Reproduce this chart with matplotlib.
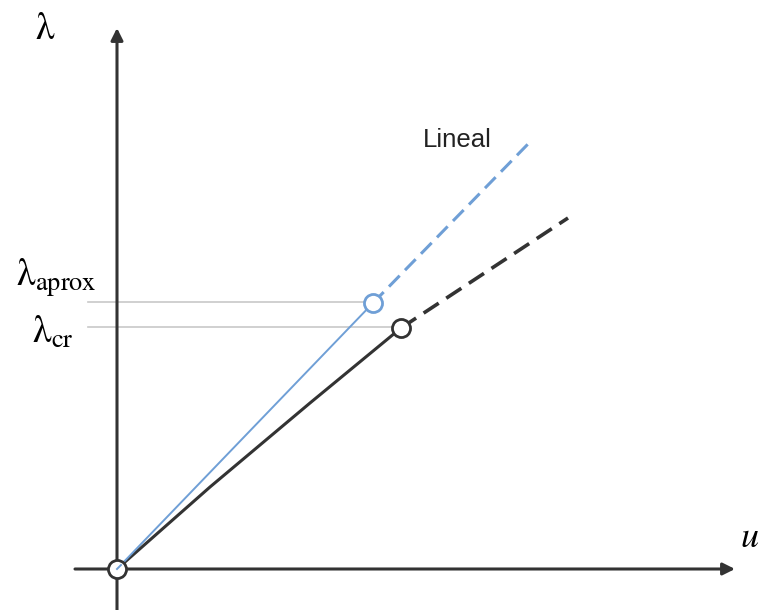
import matplotlib
matplotlib.use('Agg')
import matplotlib.pyplot as plt
import numpy as np

plt.rcParams['mathtext.fontset'] = 'stix'

# linear (first-order) estimate
lin_solid_u = [0.0, 2.56]
lin_solid_lam = [0.0, 2.66]
lin_dash_u = [2.56, 4.11]
lin_dash_lam = [2.66, 4.25]

# actual nonlinear path
nl_solid_u = [0.0, 0.93, 1.93, 2.84]
nl_solid_lam = [0.0, 0.82, 1.66, 2.41]
nl_dash_u = [2.84, 3.63, 4.51]
nl_dash_lam = [2.41, 2.93, 3.51]

lam_aprox = 2.67
lam_cr = 2.42

fig = plt.figure(figsize=(7.63, 6.10), dpi=100)
ax = fig.add_axes([0, 0, 1, 1])
ax.set_xlim(-1.17, 6.46)
ax.set_ylim(-0.41, 5.69)
ax.axis('off')

black = '#333333'
blue = '#6f9fd6'

# axes with arrow heads
ax.annotate('', xy=(6.18, 0), xytext=(-0.42, 0),
            arrowprops=dict(arrowstyle='-|>', lw=2.2, color=black, mutation_scale=18,
                            shrinkA=0, shrinkB=0))
ax.annotate('', xy=(0, 5.41), xytext=(0, -0.41),
            arrowprops=dict(arrowstyle='-|>', lw=2.2, color=black, mutation_scale=18,
                            shrinkA=0, shrinkB=0))

# reference levels
ax.plot([-0.29, lin_solid_u[-1]], [lam_aprox, lam_aprox], color='#c8c8c8', lw=1.2, zorder=1)
ax.plot([-0.29, nl_solid_u[-1]], [lam_cr, lam_cr], color='#c8c8c8', lw=1.2, zorder=1)

ax.plot(nl_solid_u, nl_solid_lam, color=black, lw=2.2, zorder=3, solid_capstyle='round')
ax.plot(nl_dash_u, nl_dash_lam, color=black, lw=2.6, ls=(0, (5, 2.5)), zorder=3)
ax.plot(lin_solid_u, lin_solid_lam, color=blue, lw=1.4, zorder=4)
ax.plot(lin_dash_u, lin_dash_lam, color=blue, lw=2.2, ls=(0, (5, 2.5)), zorder=4)

ax.plot(lin_solid_u[-1], lin_solid_lam[-1], 'o', ms=13, mfc='white', mec=blue, mew=2, zorder=5)
ax.plot(nl_solid_u[-1], nl_solid_lam[-1], 'o', ms=13, mfc='white', mec=black, mew=2, zorder=5)
ax.plot(0, 0, 'o', ms=13, mfc='white', mec=black, mew=2, zorder=5)
ax.plot([0, 0.04], [0, 0.04], color=blue, lw=1.4, zorder=6)

ax.text(-0.72, 5.40, r'$\mathrm{\lambda}$', fontsize=27, ha='center', va='center')
ax.text(6.33, 0.32, r'$u$', fontsize=26, ha='center', va='center')
ax.text(-0.61, 2.91, r'$\mathrm{\lambda}_{\mathrm{aprox}}$', fontsize=27, ha='center', va='center')
ax.text(-0.64, 2.36, r'$\mathrm{\lambda}_{\mathrm{cr}}$', fontsize=27, ha='center', va='center')
ax.text(3.40, 4.29, 'Lineal', fontsize=18.5, color='#222222', ha='center', va='center',
        family='Liberation Sans')

fig.savefig('out.png', dpi=100)
